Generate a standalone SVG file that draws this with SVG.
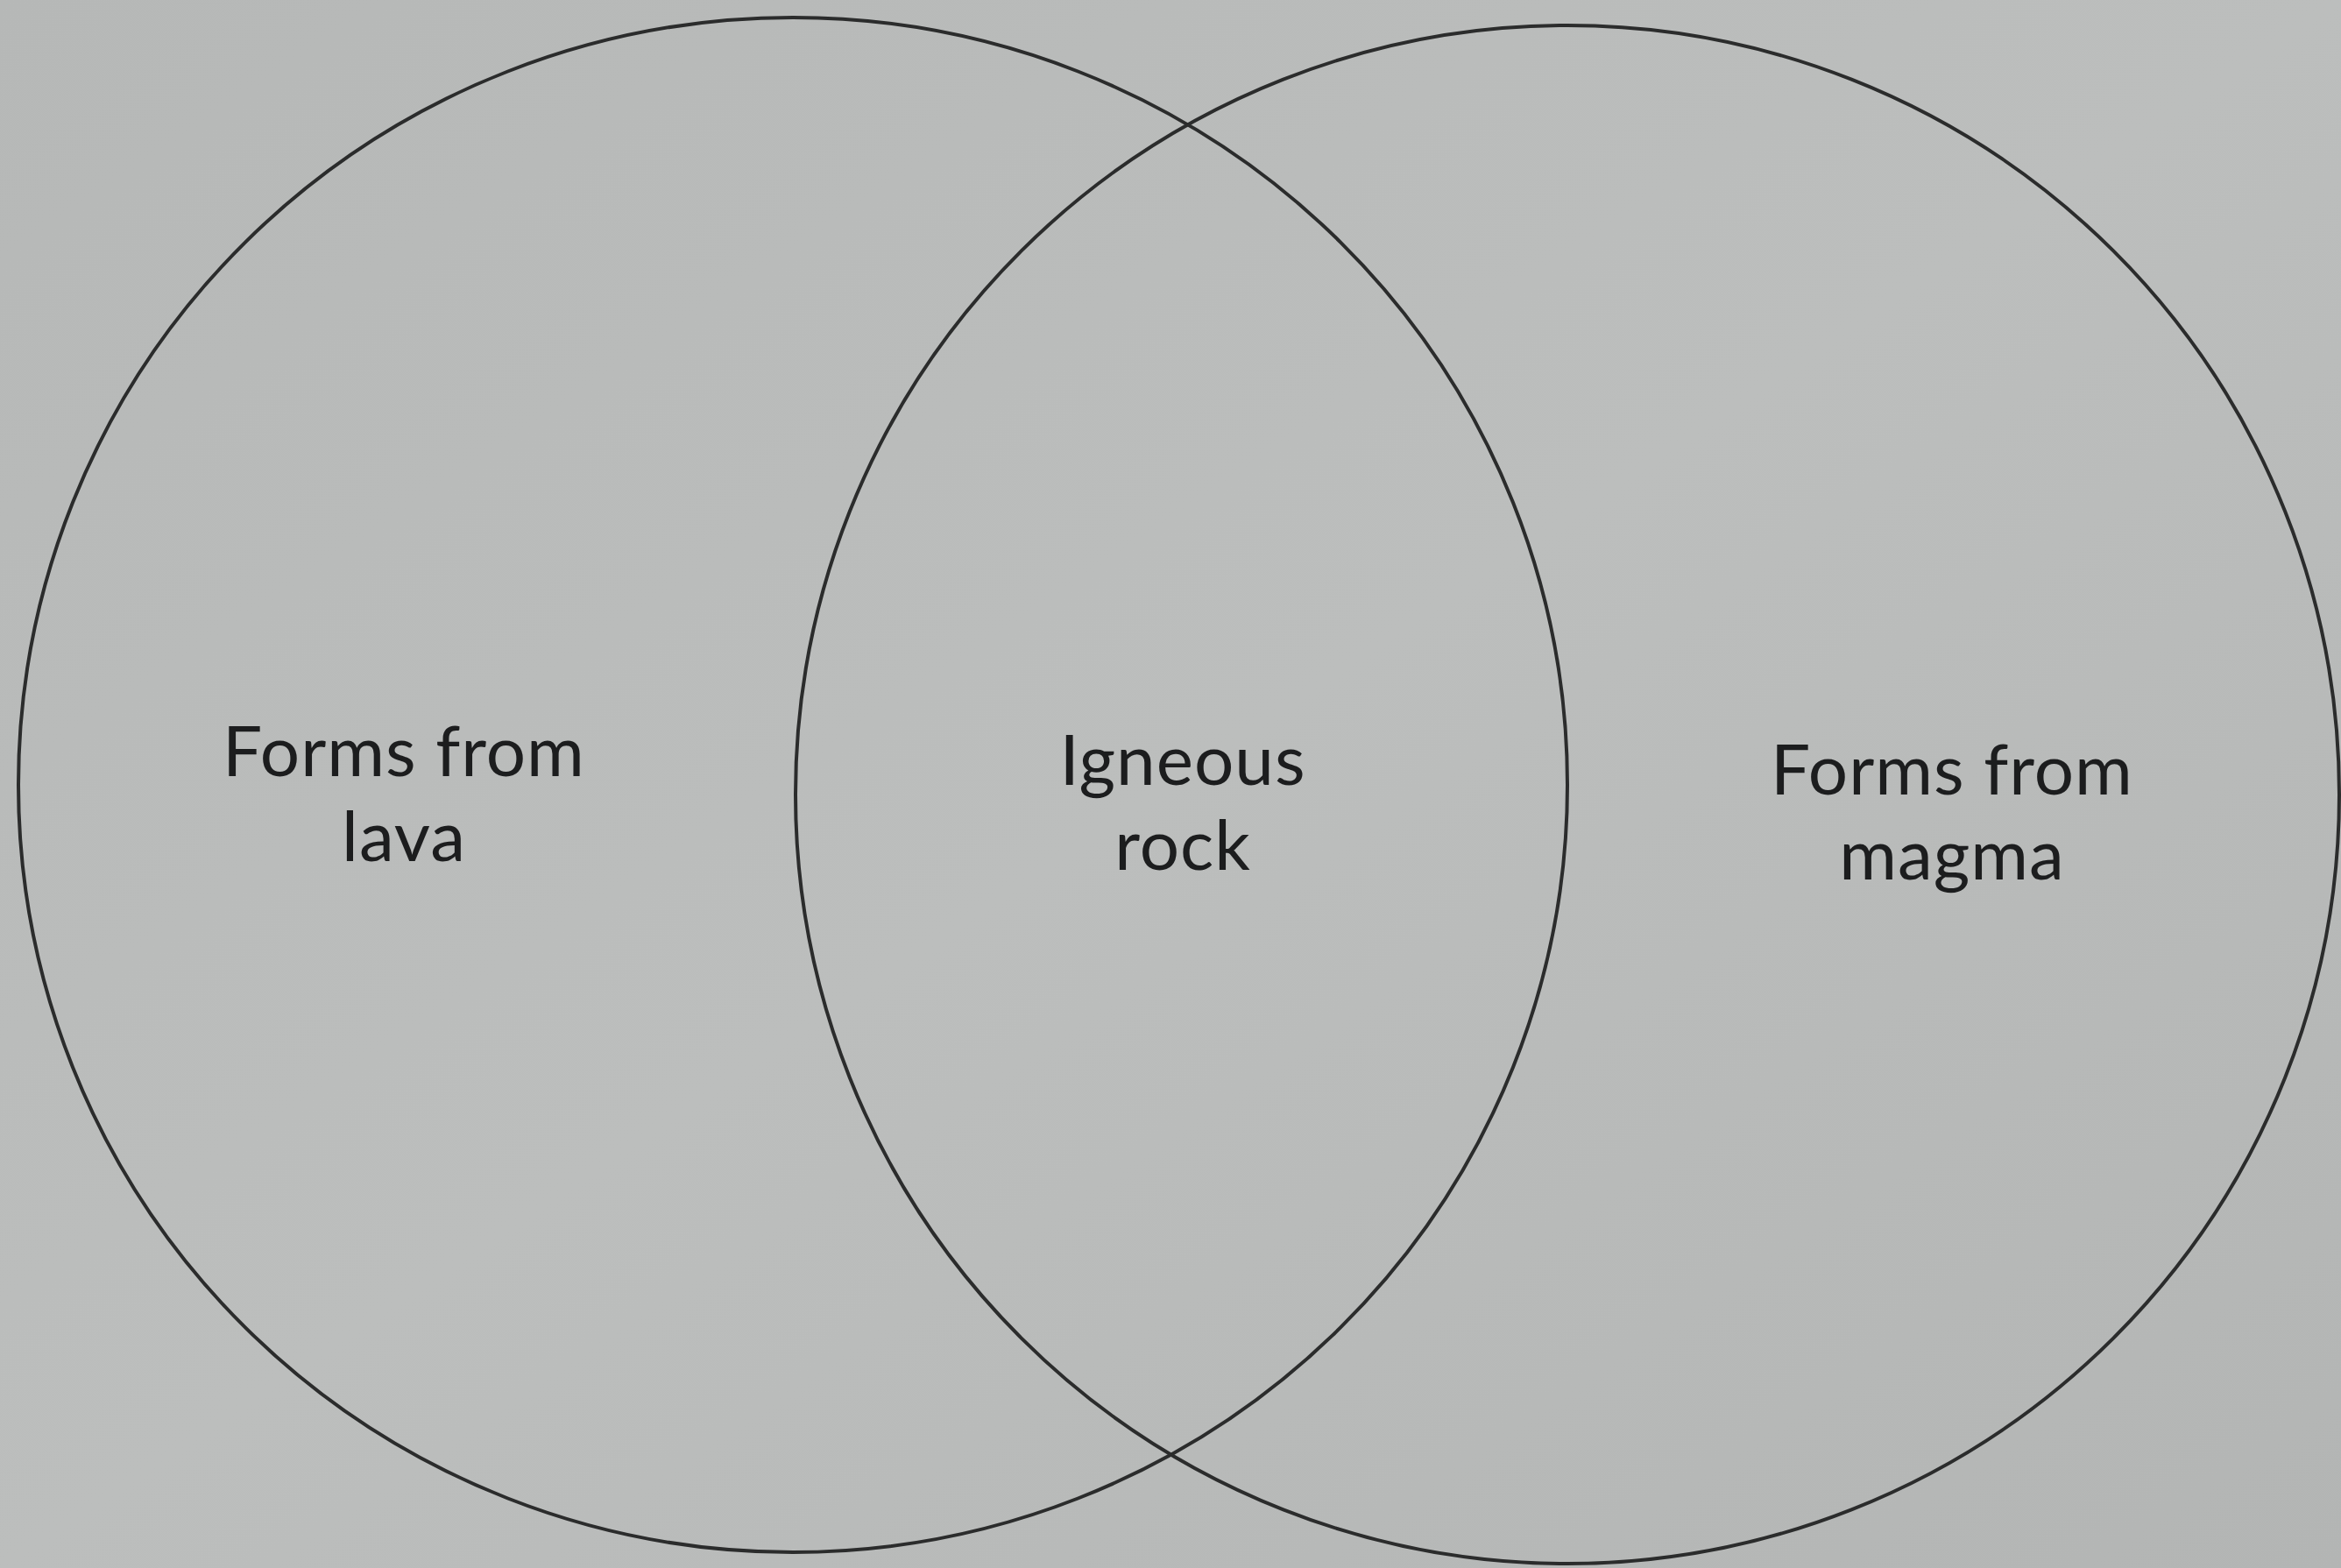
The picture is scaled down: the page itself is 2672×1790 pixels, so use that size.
<svg xmlns="http://www.w3.org/2000/svg" width="2672" height="1790" viewBox="0 0 2672 1790">
<defs>
<style>
.ring{fill:none;stroke:#2b2c2c;stroke-width:4}
.lbl{font-family:Lato,"Open Sans","Liberation Sans",sans-serif;font-size:80px;letter-spacing:1px;fill:#1c1d1e;text-anchor:middle}
</style>
<linearGradient id="bg" x1="0" y1="0" x2="1" y2="1">
<stop offset="0" stop-color="#b6b8b7"/>
<stop offset="0.5" stop-color="#bcbebd"/>
<stop offset="1" stop-color="#b3b5b4"/>
</linearGradient>
</defs>
<rect width="2672" height="1790" fill="url(#bg)"/>
<g id="left-set">
<ellipse class="ring" cx="905" cy="896" rx="884" ry="876"/>
<text class="lbl" x="461" y="886">Forms from</text>
<text class="lbl" x="461" y="983">lava</text>
</g>
<g id="right-set">
<ellipse class="ring" cx="1789" cy="907" rx="881" ry="878"/>
<text class="lbl" x="2228" y="907">Forms from</text>
<text class="lbl" x="2228" y="1004">magma</text>
</g>
<g id="overlap">
<text class="lbl" x="1350" y="896">Igneous</text>
<text class="lbl" x="1350" y="993">rock</text>
</g>
<g id="connectors"/>
</svg>
